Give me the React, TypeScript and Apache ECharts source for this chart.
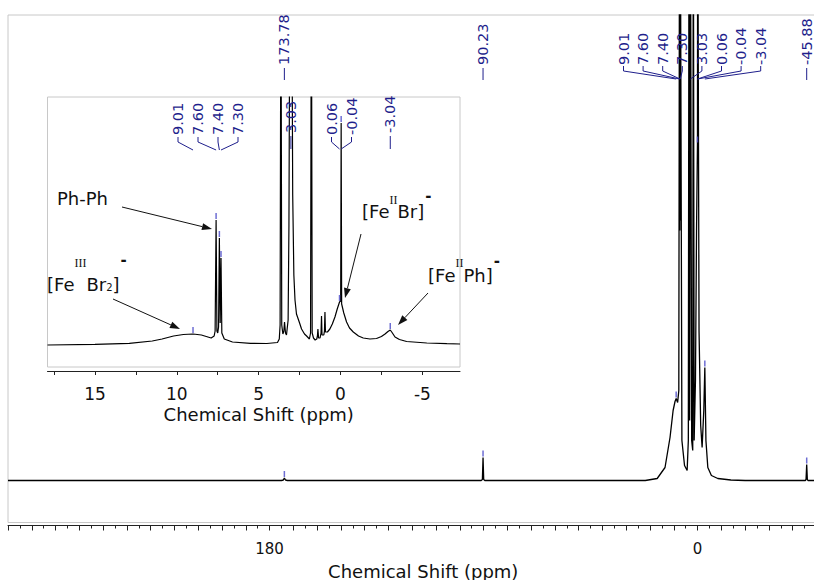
import React, { useEffect, useRef } from 'react';
import * as echarts from 'echarts';

// Full sweep: chemical shift (ppm) and intensity of the traced spectrum
const mainShift = [
  290, 175, 174.2, 173.78, 173.3, 172.5,
  91, 90.5, 90.23, 89.95, 89.5,
  22, 17, 13.7, 11.6, 10.3, 9.5, 9.01, 8.4, 7.9, 7.6, 7.5, 7.4, 7.35, 7.3, 6.6, 5.5, 4.4, 3.9, 3.6, 3.35,
  3.03, 2.5, 2.05, 1.8, 1.45, 0.9, 0.45, 0.06, -0.04, -0.6, -1.3, -1.9, -2.6, -3.04, -3.5, -4.3, -5.8,
  -8.5, -14, -20,
  -45.3, -45.6, -45.88, -46.15, -46.4, -50,
];
const mainIntensity = [
  0, 0, 0.5, 2.5, 0.5, 0,
  0, 1, 23, 1, 0,
  0, 2, 13, 43, 70, 79, 82, 78, 90, 620, 250, 620, 260, 620, 40, 15, 10, 40, 620, 60,
  620, 40, 30, 620, 40, 100, 250, 337, 620, 150, 55, 33, 70, 113, 40, 13, 5,
  2, 0.5, 0,
  0, 1, 16, 1, 0, 0,
];

// Expanded diamagnetic region
const insetShift = [
  17.9, 15, 12.9, 11.5, 10.9, 10.2, 9.6, 9.01, 8.5, 8.2, 7.9, 7.72, 7.66, 7.6, 7.55, 7.5, 7.45, 7.4, 7.35,
  7.3, 7.25, 7.1, 6.6, 5.5, 4.5, 3.85, 3.74, 3.69, 3.64, 3.59, 3.52, 3.46, 3.42, 3.36, 3.3, 3.2, 3.15, 3.1,
  3.03, 2.97, 2.92, 2.85, 2.78, 2.69, 2.5, 2.38, 2.2, 2.07, 1.9, 1.83, 1.78, 1.73, 1.65, 1.55, 1.45, 1.41,
  1.38, 1.34, 1.25, 1.19, 1.16, 1.13, 1.02, 0.98, 0.95, 0.92, 0.8, 0.65, 0.5, 0.34, 0.2, 0.06, -0.01,
  -0.04, -0.07, -0.2, -0.37, -0.55, -0.78, -1.1, -1.39, -1.8, -2.2, -2.5, -2.72, -2.9, -3.04, -3.15,
  -3.33, -3.6, -4.04, -5.27, -6.5, -7.3,
];
const insetIntensity = [
  0, 0.7, 1.7, 4, 6, 9, 10.5, 11, 10, 8.5, 7, 9, 14, 125, 14, 12, 18, 107, 22,
  87, 12, 6, 3, 1.7, 1.5, 2.5, 6, 20, 400, 20, 11, 14, 23, 12, 10, 25, 120, 350,
  500, 350, 150, 70, 45, 31, 22, 16, 11, 9, 6, 12, 400, 12, 7, 5, 6, 9,
  16, 7, 7, 12, 29, 10, 10, 14, 33, 13, 13, 16, 21, 28, 36, 43, 44,
  222, 41, 32, 23, 17, 13, 9, 7, 6, 6.5, 8.5, 11, 13.5, 15, 12.5,
  8, 5.5, 3.5, 2, 1.3, 1,
];

// Picked peaks (position and apex height)
const mainPickedShift = [173.78, 90.23, 9.01, 0.06, -3.04, -45.88];
const mainPickedHeight = [2.5, 23, 82, 337, 113, 16];
const insetPickedShift = [9.01, 7.6, 7.4, 7.3, 0.06, -0.04, -3.04];
const insetPickedHeight = [11, 125, 107, 87, 43, 222, 15];

// Peak labels along the top
const mainSingleLabels = [173.78, 90.23, -45.88];
const mainGroupLabels = [9.01, 7.6, 7.4, 7.3, 3.03, 0.06, -0.04, -3.04];
const insetGroupA = [9.01, 7.6, 7.4, 7.3];
const insetGroupB = [0.06, -0.04];
const insetSingleLabels = [3.03, -3.04];

// Axis ticks
const mainTickLabels = [180, 0];
const insetTickLabels = [15, 10, 5, 0, -5];
const insetTicks = [17.5, 15, 12.5, 10, 7.5, 5, 2.5, 0, -2.5, -5];

const AXIS_TITLE = 'Chemical Shift (ppm)';
const SANS = 'DejaVu Sans';
const LABEL_BLUE = '#1f1f8c';
const PICK_BLUE = '#4848c8';
const INK = '#111111';

type Piece = [string, string, number];
const notes: { x: number; y: number; pieces: Piece[] }[] = [
  { x: 57, y: 198, pieces: [['Ph-Ph', 'm', 0]] },
  { x: 362, y: 211, pieces: [['[Fe', 'm', 0], ['II', 'sup', -11], ['Br]', 'm', 0], ['-', 'dash', -15]] },
  {
    x: 47,
    y: 284,
    pieces: [['[Fe', 'm', 0], ['III', 'sup', -21], ['Br', 'm', 0], ['2', 'sub', 3], [']', 'm', 0], ['-', 'dash', -24]],
  },
  { x: 428, y: 275, pieces: [['[Fe', 'm', 0], ['II', 'sup', -12], ['Ph]', 'm', 0], ['-', 'dash', -14]] },
];
const arrows: number[][][] = [
  [[122, 207], [212, 229]],
  [[361, 234], [345, 298]],
  [[113, 299], [180, 329]],
  [[428, 293], [398, 325]],
];

const pieceFont: Record<string, { size: number; family: string; weight: string }> = {
  m: { size: 18, family: SANS, weight: 'normal' },
  sup: { size: 12, family: 'Liberation Serif', weight: 'normal' },
  sub: { size: 10, family: SANS, weight: 'normal' },
  dash: { size: 15, family: SANS, weight: 'bold' },
};

function zip(xs: number[], ys: number[]) {
  return xs.map((x, i) => [x, ys[i]]);
}

let measureCtx: CanvasRenderingContext2D | null = null;
function textWidth(str: string, f: { size: number; family: string; weight: string }) {
  if (!measureCtx) measureCtx = document.createElement('canvas').getContext('2d');
  if (!measureCtx) return str.length * f.size * 0.6;
  measureCtx.font = `${f.weight} ${f.size}px "${f.family}"`;
  return measureCtx.measureText(str).width;
}

function fmt(v: number) {
  return v.toFixed(2);
}

function rotatedLabel(text: string, x: number, y: number) {
  return {
    type: 'text',
    x,
    y,
    rotation: Math.PI / 2,
    z: 50,
    style: {
      text,
      fontSize: 14.5,
      fontFamily: SANS,
      fill: LABEL_BLUE,
      align: 'left',
      verticalAlign: 'middle',
    },
  };
}

function leader(points: number[][]) {
  return {
    type: 'polyline',
    z: 50,
    shape: { points },
    style: { stroke: LABEL_BLUE, lineWidth: 1, fill: null },
  };
}

function arrow(from: number[], to: number[]) {
  const dx = to[0] - from[0];
  const dy = to[1] - from[1];
  const len = Math.hypot(dx, dy);
  const ux = dx / len;
  const uy = dy / len;
  const head = 10;
  const half = 3.5;
  const bx = to[0] - ux * head;
  const by = to[1] - uy * head;
  return [
    {
      type: 'line',
      z: 40,
      shape: { x1: from[0], y1: from[1], x2: bx, y2: by },
      style: { stroke: INK, lineWidth: 1 },
    },
    {
      type: 'polygon',
      z: 40,
      shape: {
        points: [
          [to[0], to[1]],
          [bx - uy * half, by + ux * half],
          [bx + uy * half, by - ux * half],
        ],
      },
      style: { fill: INK },
    },
  ];
}

function noteTexts(note: { x: number; y: number; pieces: Piece[] }) {
  const out: any[] = [];
  let cursor = note.x;
  note.pieces.forEach(([text, kind, dy]) => {
    const f = pieceFont[kind];
    const shift = kind === 'dash' ? 1 : 0;
    out.push({
      type: 'text',
      x: cursor + shift,
      y: note.y + dy,
      z: 40,
      style: {
        text,
        fontSize: f.size,
        fontFamily: f.family,
        fontWeight: f.weight,
        fill: INK,
        align: 'left',
        verticalAlign: 'middle',
      },
    });
    cursor += textWidth(text, f) + shift;
  });
  return out;
}

export default function App() {
  const ref = useRef<HTMLDivElement>(null);

  useEffect(() => {
    if (!ref.current) return;
    const chart = echarts.init(ref.current, null, { renderer: 'svg' });

    const titleStyle = { fontFamily: SANS, fontSize: 18, color: INK };

    chart.setOption({
      animation: false,
      backgroundColor: '#ffffff',
      grid: [
        {
          left: 8, top: 15, width: 808.5, height: 507.5,
          show: true, borderColor: '#c8c8c8', borderWidth: 1, backgroundColor: '#ffffff',
          containLabel: false, outerBoundsMode: 'none',
        },
        {
          left: 47.5, top: 97, width: 412.5, height: 270,
          show: true, borderColor: '#c8c8c8', borderWidth: 1, backgroundColor: '#ffffff', z: 5,
          containLabel: false, outerBoundsMode: 'none',
        },
      ],
      xAxis: [
        {
          type: 'value',
          gridIndex: 0,
          min: -50,
          max: 290,
          interval: 10,
          inverse: true,
          offset: 3,
          axisLine: { show: true, onZero: false, lineStyle: { color: '#222', width: 1 } },
          axisTick: { show: true, length: 5, lineStyle: { color: '#222' } },
          minorTick: { show: true, splitNumber: 2, length: 3, lineStyle: { color: '#222' } },
          splitLine: { show: false },
          axisLabel: {
            formatter: (v: number) => (mainTickLabels.includes(v) ? String(v) : ''),
            margin: 16,
            fontSize: 15,
            fontFamily: SANS,
            color: INK,
            showMinLabel: true,
            showMaxLabel: true,
          },
          name: AXIS_TITLE,
          nameLocation: 'middle',
          nameGap: 37,
          nameTextStyle: { ...titleStyle, padding: [0, 0, 0, 22] },
        },
        {
          type: 'value',
          gridIndex: 1,
          min: -7.3,
          max: 17.9,
          inverse: true,
          offset: 4,
          axisLine: { show: true, onZero: false, lineStyle: { color: '#222', width: 1 } },
          axisTick: { show: true, length: 4, customValues: insetTicks, lineStyle: { color: '#222' } },
          splitLine: { show: false },
          axisLabel: {
            customValues: insetTickLabels,
            formatter: (v: number) => String(v),
            margin: 14,
            fontSize: 17,
            fontFamily: SANS,
            color: INK,
          },
          name: AXIS_TITLE,
          nameLocation: 'middle',
          nameGap: 34,
          nameTextStyle: { ...titleStyle, padding: [0, 0, 0, 10] },
          z: 6,
        },
      ],
      yAxis: [
        { type: 'value', gridIndex: 0, min: -42, max: 465.5, show: false, splitLine: { show: false } },
        { type: 'value', gridIndex: 1, min: -22, max: 248, show: false, splitLine: { show: false } },
      ],
      series: [
        {
          type: 'line',
          xAxisIndex: 0,
          yAxisIndex: 0,
          data: zip(mainShift, mainIntensity),
          showSymbol: false,
          clip: true,
          lineStyle: { color: '#000', width: 1.3 },
          z: 2,
        },
        {
          type: 'scatter',
          xAxisIndex: 0,
          yAxisIndex: 0,
          data: zip(mainPickedShift, mainPickedHeight),
          symbol: 'rect',
          symbolSize: [1.5, 6],
          symbolOffset: [0, -4],
          itemStyle: { color: PICK_BLUE },
          z: 3,
        },
        {
          type: 'line',
          xAxisIndex: 1,
          yAxisIndex: 1,
          data: zip(insetShift, insetIntensity),
          showSymbol: false,
          clip: true,
          lineStyle: { color: '#000', width: 1.2 },
          z: 6,
        },
        {
          type: 'scatter',
          xAxisIndex: 1,
          yAxisIndex: 1,
          data: zip(insetPickedShift, insetPickedHeight),
          symbol: 'rect',
          symbolSize: [1.5, 6],
          symbolOffset: [0, -4],
          itemStyle: { color: PICK_BLUE },
          z: 7,
        },
      ],
    });

    const mx = (v: number) => chart.convertToPixel({ xAxisIndex: 0 }, v) as number;
    const ix = (v: number) => chart.convertToPixel({ xAxisIndex: 1 }, v) as number;

    const g: any[] = [];

    // main spectrum: isolated peaks
    mainSingleLabels.forEach((v) => {
      const px = mx(v);
      g.push(rotatedLabel(fmt(v), px, 65));
      g.push(leader([[px, 68], [px, 80]]));
    });
    // main spectrum: crowded peaks around 0 ppm, spread out with leaders
    mainGroupLabels.forEach((v, i) => {
      const lx = 623.5 + i * 19.6;
      const px = mx(v);
      g.push(rotatedLabel(fmt(v), lx, 65));
      g.push(leader([[lx, 66], [lx, 71], [px, 79]]));
    });

    // expansion labels
    insetGroupA.forEach((v, i) => {
      const lx = 178 + i * 20;
      const px = ix(v);
      g.push(rotatedLabel(fmt(v), lx, 135));
      g.push(leader([[lx, 137], [lx, 142], [px, 150]]));
    });
    insetGroupB.forEach((v, i) => {
      const lx = 331.5 + i * 20;
      const px = ix(v);
      g.push(rotatedLabel(fmt(v), lx, 135));
      g.push(leader([[lx, 137], [lx, 142], [px, 149]]));
    });
    insetSingleLabels.forEach((v) => {
      const px = ix(v);
      g.push(rotatedLabel(fmt(v), px, 133));
      g.push(leader([[px, 136], [px, 149]]));
    });

    notes.forEach((n) => g.push(...noteTexts(n)));
    arrows.forEach(([a, b]) => g.push(...arrow(a, b)));

    chart.setOption({ graphic: g });

    return () => chart.dispose();
  }, []);

  return (
    <div
      ref={ref}
      style={{ position: 'fixed', left: 0, top: 0, width: 814, height: 580, background: '#fff' }}
    />
  );
}
